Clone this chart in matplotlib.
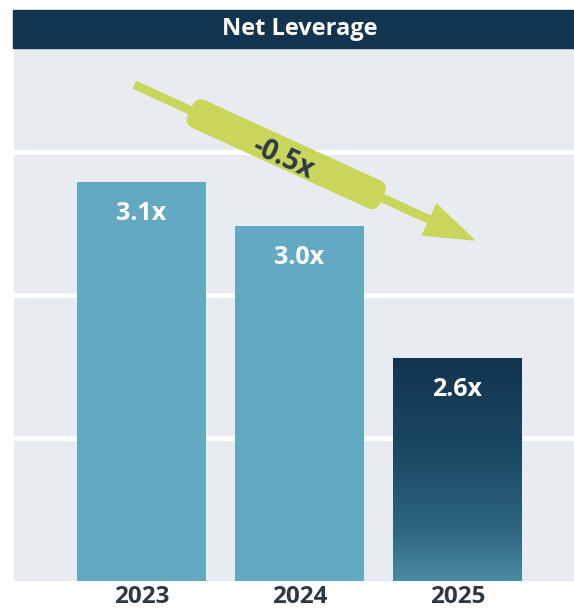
import numpy as np
import matplotlib
matplotlib.use("Agg")
import matplotlib.pyplot as plt
from matplotlib.patches import Rectangle, FancyBboxPatch, Polygon
from matplotlib.colors import LinearSegmentedColormap
from matplotlib.transforms import Affine2D

plt.rcParams["font.family"] = ["Open Sans", "DejaVu Sans"]

# data
years = ["2023", "2024", "2025"]
leverage = [3.10, 2.975, 2.60]
bar_labels = ["3.1x", "3.0x", "2.6x"]
change_label = "-0.5x"
title = "Net Leverage"

NAVY = "#12344f"
BAR_BLUE = "#63a9c1"
BG = "#e8ecf0"
ARROW_GREEN = "#c9d65b"
TEXT_DARK = "#2d3a44"

W, H = 574, 610
Y_MIN = 1.9665
Y_SPAN = 533 / 352
GRID_STEP = 0.406


def fx(px):
    return px / W


def fy(py):
    return 1 - py / H


fig = plt.figure(figsize=(W / 100, H / 100), dpi=100)

# header band
fig.patches.append(Rectangle((fx(13), fy(48)), 1 - fx(13), fy(10) - fy(48),
                             transform=fig.transFigure, color=NAVY, zorder=0))
fig.text(fx(300), fy(29), title, ha="center", va="center", color="white",
         fontsize=17, fontweight="bold")

ax = fig.add_axes([fx(14), fy(581), fx(574) - fx(14), fy(48) - fy(581)])
ax.set_facecolor(BG)

x = np.arange(len(years))
colors = [BAR_BLUE] * (len(years) - 1) + [NAVY]
bars = ax.bar(x, leverage, width=0.816, color=colors, zorder=2)

# gradient on the last bar
last = bars[-1]
cmap = LinearSegmentedColormap.from_list(
    "fade", [(0, "#4b8aa4"), (0.22, "#2f6781"), (0.55, "#1c4a65"), (1, NAVY)])
grad = np.linspace(0, 1, 256).reshape(-1, 1)
bx, bw = last.get_x(), last.get_width()
im = ax.imshow(grad, extent=(bx, bx + bw, Y_MIN, leverage[-1]), origin="lower",
               cmap=cmap, aspect="auto", zorder=2.1)
im.set_clip_path(last)

for xi, v, lab in zip(x, leverage, bar_labels):
    ax.annotate(lab, (xi, v), xytext=(0, -22.7), textcoords="offset points",
                ha="center", va="center", color="white", fontsize=18,
                fontweight="bold", zorder=5)

ax.set_xlim(-0.807, 2.737)
ax.set_ylim(Y_MIN, Y_MIN + Y_SPAN)
ax.set_yticks([Y_MIN + GRID_STEP * k for k in range(1, 4)])
ax.set_yticklabels([])
ax.grid(axis="y", color="white", linewidth=3.6)
ax.set_axisbelow(True)

ax.set_xticks(x, years)
ax.tick_params(axis="both", length=0)
ax.tick_params(axis="x", pad=3, labelsize=17.5, labelcolor=TEXT_DARK)
for t in ax.get_xticklabels():
    t.set_fontweight("bold")

for s in ax.spines.values():
    s.set_visible(False)

# trend arrow with pill label, drawn in a rotated frame (inches)
ang = 24.57
tail = (135, 85)
rot = Affine2D().rotate_deg(-ang).translate(tail[0] / 100, (H - tail[1]) / 100) + fig.dpi_scale_trans

shaft = Rectangle((0, -0.037), 3.30, 0.074, transform=rot, color=ARROW_GREEN, zorder=3)
head = Polygon([(3.238, 0.17), (3.728, 0), (3.238, -0.17)], closed=True,
               transform=rot, color=ARROW_GREEN, zorder=3)
pill = FancyBboxPatch((1.664 - 1.05, -0.145), 2.10, 0.29,
                      boxstyle="round,pad=0,rounding_size=0.09",
                      transform=rot, color=ARROW_GREEN, zorder=3)
for p in (shaft, head, pill):
    fig.add_artist(p)

fig.text(1.65, -0.05, change_label, transform=rot, rotation=-ang,
         rotation_mode="anchor", ha="center", va="center", color=TEXT_DARK,
         fontsize=20, fontweight="bold", zorder=4)

fig.savefig("out.png", dpi=100, facecolor="white")
